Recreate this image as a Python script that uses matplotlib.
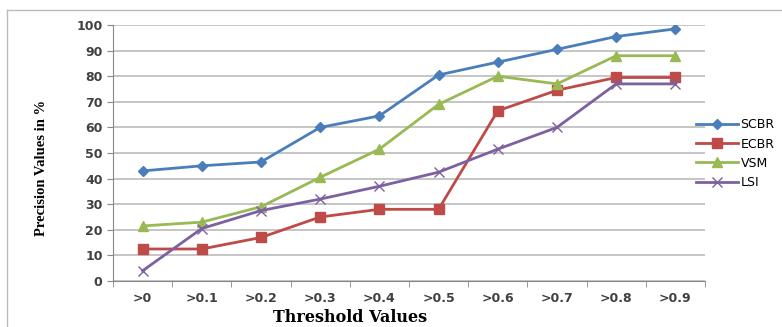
## Precision values vs threshold for four retrieval methods.

import numpy as np
import matplotlib.pyplot as plt
from matplotlib.lines import Line2D

thresholds = ['>0', '>0.1', '>0.2', '>0.3', '>0.4', '>0.5', '>0.6', '>0.7', '>0.8', '>0.9']
scbr = [43, 45, 46.5, 60, 64.5, 80.5, 85.5, 90.5, 95.5, 98.5]
ecbr = [12.5, 12.5, 17, 25, 28, 28, 66.5, 74.5, 79.5, 79.5]
vsm = [21.5, 23, 29, 40.5, 51.5, 69, 80, 77, 88, 88]
lsi = [4, 20.5, 27.5, 32, 37, 42.5, 51.5, 60, 77, 77]

x = np.arange(len(thresholds))

fig = plt.figure(figsize=(7.82, 3.27), dpi=100)
ax = fig.add_axes([0.1445, 0.1407, 0.757, 0.7828])

ax.plot(x, scbr, color='#4A7EBB', linewidth=2, marker='D', markersize=5, label='SCBR')
ax.plot(x, ecbr, color='#BE4B48', linewidth=2, marker='s', markersize=7, label='ECBR')
ax.plot(x, vsm, color='#98B954', linewidth=2, marker='^', markersize=7, label='VSM')
ax.plot(x, lsi, color='#7D60A0', linewidth=2, marker='x', markersize=7, markeredgewidth=1, label='LSI')

ax.set_xlim(-0.5, 9.5)
ax.set_ylim(0, 100)
ax.set_yticks(np.arange(0, 101, 10))
ax.set_xticks(x)
ax.set_xticklabels(thresholds)
ax.set_xticks(np.arange(-0.5, 10, 1), minor=True)
ax.tick_params(axis='x', which='major', length=0, pad=8, labelsize=9, colors='#404040')
ax.tick_params(axis='x', which='minor', length=4, color='#888888')
ax.tick_params(axis='y', length=4, color='#888888', labelsize=9, colors='#404040')
for lbl in ax.get_xticklabels() + ax.get_yticklabels():
    lbl.set_fontweight('bold')

ax.grid(axis='y', color='#BBBBBB', linewidth=1.2)
ax.set_axisbelow(True)
for s in ['top', 'right']:
    ax.spines[s].set_visible(False)
for s in ['left', 'bottom']:
    ax.spines[s].set_color('#888888')

ax.set_xlabel('Threshold Values', fontsize=11.5, fontweight='bold', family='DejaVu Serif')
ax.xaxis.set_label_coords(0.40, -0.108)
ax.set_ylabel('Precision Values in %', fontsize=10.5, fontweight='bold', family='Liberation Serif')
ax.yaxis.set_label_coords(-0.11, 0.44)

fig.legend(loc='center left', bbox_to_anchor=(0.875, 0.53), frameon=False, fontsize=9,
           handlelength=3.4, handletextpad=0.2, labelspacing=0.5)

# outer chart frame (top and left edges only)
fig.add_artist(Line2D([0.009, 1.0], [0.97, 0.97], color='#BBBBBB', linewidth=1))
fig.add_artist(Line2D([0.009, 0.009], [0.0, 0.97], color='#BBBBBB', linewidth=1))

plt.savefig('out.png', dpi=100)
